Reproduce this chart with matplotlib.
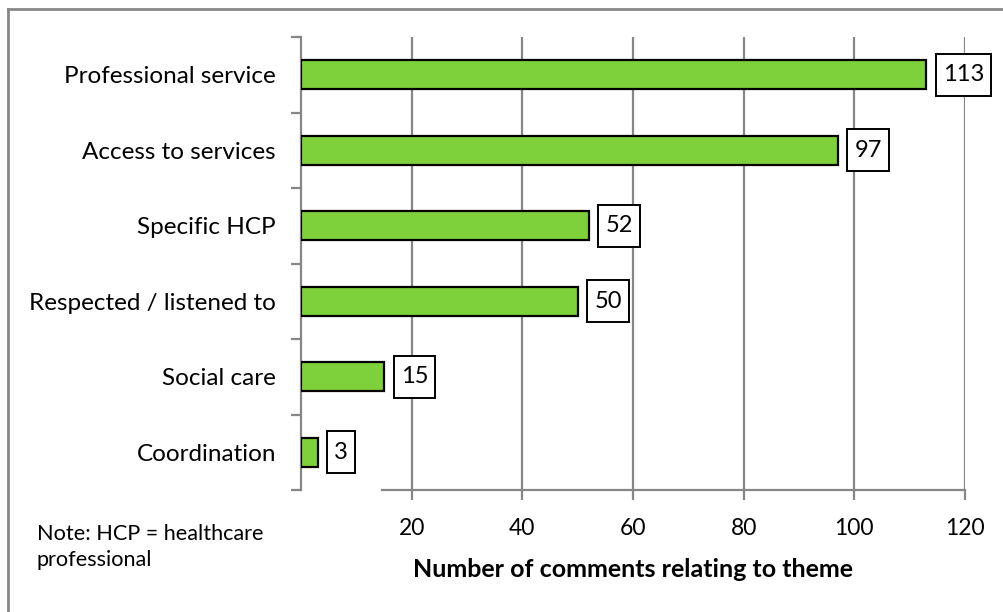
import matplotlib
matplotlib.use("Agg")
import matplotlib.pyplot as plt
from matplotlib.lines import Line2D
from matplotlib.path import Path

plt.rcParams["font.family"] = ["Lato", "DejaVu Sans"]

themes = ["Professional service", "Access to services", "Specific HCP",
          "Respected / listened to", "Social care", "Coordination"]
counts = [113, 97, 52, 50, 15, 3]
x_ticks = [20, 40, 60, 80, 100, 120]

W, H = 1004, 612
fig = plt.figure(figsize=(W / 100, H / 100), dpi=100)
ax = fig.add_axes([301 / W, 1 - 490 / H, (965 - 301) / W, (490 - 37) / H])

gray = "#868686"
y = list(range(len(themes)))
ax.barh(y, counts, height=0.39, color="#7fd13b", edgecolor="black",
        linewidth=1.6, zorder=3)


def label_box(x0, y0, width, height, mutation_size):
    # rectangle with a bit more room above/below than at the sides
    px = 0.3 * mutation_size
    py = 0.45 * mutation_size
    x0, y0 = x0 - px, y0 - py
    x1, y1 = x0 + width + 2 * px, y0 + height + 2 * py
    return Path([(x0, y0), (x1, y0), (x1, y1), (x0, y1), (x0, y0)], closed=True)


for yi, v in zip(y, counts):
    ax.annotate(str(v), xy=(v, yi), xytext=(12, 0), textcoords="offset points",
                ha="left", va="center", fontsize=17, zorder=4,
                bbox=dict(boxstyle=label_box, facecolor="white",
                          edgecolor="black", linewidth=1.4))

ax.set_xlim(0, 120)
ax.set_ylim(len(themes) - 0.5, -0.5)
ax.set_xticks(x_ticks)
ax.set_xticklabels([str(t) for t in x_ticks], fontsize=16.5)
ax.set_yticks(y)
ax.set_yticklabels(themes, fontsize=17.5)
ax.set_yticks([i - 0.5 for i in range(len(themes) + 1)], minor=True)
ax.tick_params(axis="y", which="major", length=0, pad=18)
ax.tick_params(axis="y", which="minor", length=7, width=1.6, color=gray)
ax.tick_params(axis="x", length=7, width=1.6, color=gray, pad=13)
ax.grid(axis="x", color=gray, linewidth=1.6, zorder=0)
ax.set_axisbelow(True)

for s in ["top", "right"]:
    ax.spines[s].set_visible(False)
for s in ["left", "bottom"]:
    ax.spines[s].set_color(gray)
    ax.spines[s].set_linewidth(1.6)
ax.spines["bottom"].set_bounds(14.6, 120)

ax.set_xlabel("Number of comments relating to theme", fontsize=18,
              fontweight="bold", labelpad=14)

fig.text(37 / W, 1 - 547 / H, "Note: HCP = healthcare\nprofessional",
         fontsize=15.6, va="center", ha="left", linespacing=1.35)

# outer chart-area border (left and top edges visible)
fig.add_artist(Line2D([8.5 / W, 8.5 / W], [0, 1 - 8.5 / H], color="#888888",
                      linewidth=2, transform=fig.transFigure))
fig.add_artist(Line2D([8.5 / W, 1], [1 - 8.5 / H, 1 - 8.5 / H], color="#888888",
                      linewidth=2, transform=fig.transFigure))

fig.savefig("out.png", dpi=100)
